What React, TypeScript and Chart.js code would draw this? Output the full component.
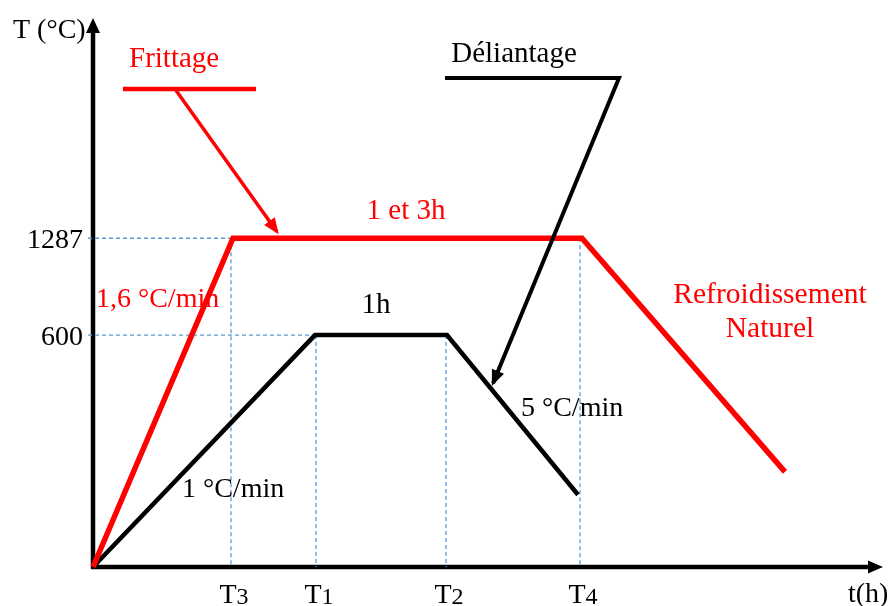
import React, { useEffect, useRef } from 'react';
import { Chart, registerables } from 'chart.js';

Chart.register(...registerables);

// Schematic time (arbitrary units) and schematic temperature levels
const frittageTime = [0, 14.0, 48.9, 69.2];
const frittageTemp = [0, 60.1, 60.1, 17.4];
const deliantageTime = [0, 22.2, 35.4, 48.5];
const deliantageTemp = [0, 42.4, 42.4, 13.2];

const tempTickLabels = ['600', '1287'];
const tempTickLevels = [42.4, 60.1];
const timeTickNames = ['T3', 'T1', 'T2', 'T4'];
const timeTickValues = [13.8, 22.3, 35.3, 48.7];

// Callout keys / pointers
const frittageKeyTime = [3.0, 16.3];
const frittageKeyTemp = [87.4, 87.4];
const frittagePointerTime = [8.2, 18.4];
const frittagePointerTemp = [87.4, 61.3];
const deliantagePointerTime = [35.2, 52.6, 40.0];
const deliantagePointerTemp = [89.4, 89.4, 33.6];

const RED = '#ff0000';
const BLUE = '#5b9bd5';
const SERIF = '"Liberation Serif", "DejaVu Serif", serif';

const pts = (xs: number[], ys: number[]) => xs.map((x, i) => ({ x, y: ys[i] }));

function arrowHead(ctx: CanvasRenderingContext2D, x1: number, y1: number, x2: number, y2: number, len: number, half: number, color: string, extend = 0) {
  const a = Math.atan2(y2 - y1, x2 - x1);
  const dx = Math.cos(a), dy = Math.sin(a);
  const tx = x2 + dx * extend, ty = y2 + dy * extend;
  const bx = tx - dx * len, by = ty - dy * len;
  ctx.save();
  ctx.fillStyle = color;
  ctx.beginPath();
  ctx.moveTo(tx, ty);
  ctx.lineTo(bx - dy * half, by + dx * half);
  ctx.lineTo(bx + dy * half, by - dx * half);
  ctx.closePath();
  ctx.fill();
  ctx.restore();
}

const schematicPlugin = {
  id: 'schematic',
  beforeDatasetsDraw(chart: any) {
    const { ctx } = chart;
    const xs = chart.scales.x;
    const ys = chart.scales.y;
    const x0 = xs.getPixelForValue(0);
    const y0 = ys.getPixelForValue(0);
    const yTop = ys.getPixelForValue(ys.max) - 2;
    const xEnd = xs.getPixelForValue(xs.max);
    ctx.save();
    ctx.strokeStyle = '#000';
    ctx.lineWidth = 4.5;
    ctx.lineCap = 'butt';
    ctx.beginPath();
    ctx.moveTo(x0, y0 + 2);
    ctx.lineTo(x0, yTop + 12);
    ctx.stroke();
    ctx.beginPath();
    ctx.moveTo(x0 - 2, y0);
    ctx.lineTo(xEnd - 12, y0);
    ctx.stroke();
    ctx.restore();
    arrowHead(ctx, x0, y0, x0, yTop, 15, 7, '#000');
    arrowHead(ctx, x0, y0, xEnd, y0, 15, 6.5, '#000');
  },
  afterDatasetsDraw(chart: any) {
    const { ctx } = chart;
    const xs = chart.scales.x;
    const ys = chart.scales.y;
    chart.data.datasets.forEach((ds: any, i: number) => {
      if (!ds.arrow) return;
      const meta = chart.getDatasetMeta(i);
      const n = meta.data.length;
      const p1 = meta.data[n - 2];
      const p2 = meta.data[n - 1];
      arrowHead(ctx, p1.x, p1.y, p2.x, p2.y, 16, 6.5, ds.borderColor, 3);
    });

    ctx.save();
    ctx.textBaseline = 'alphabetic';
    const text = (s: string, x: number, y: number, color: string, align: CanvasTextAlign, size = 29) => {
      ctx.font = `${size}px ${SERIF}`;
      ctx.fillStyle = color;
      ctx.textAlign = align;
      ctx.fillText(s, x, y);
    };
    tempTickLabels.forEach((lab, i) => {
      text(lab, xs.getPixelForValue(0) - 10, ys.getPixelForValue(tempTickLevels[i]) + 10, '#000', 'right', 28);
    });
    timeTickNames.forEach((name, i) => {
      const cx = xs.getPixelForValue(timeTickValues[i]) + 3;
      ctx.font = `28px ${SERIF}`;
      const wT = ctx.measureText(name[0]).width;
      ctx.font = `24px ${SERIF}`;
      const wD = ctx.measureText(name.slice(1)).width;
      const left = cx - (wT + wD) / 2;
      text(name[0], left, 603, '#000', 'left', 28);
      text(name.slice(1), left + wT, 604, '#000', 'left', 24);
    });
    text('T (°C)', 13, 38, '#000', 'left', 28);
    text('t(h)', 848, 602, '#000', 'left', 28);
    text('Frittage', 129, 67, RED, 'left', 29);
    text('Déliantage', 514, 62, '#000', 'center', 29);
    text('1 et 3h', 406, 219, RED, 'center', 29);
    text('1,6 °C/min', 96, 307, RED, 'left', 28);
    text('1h', 376, 313, '#000', 'center', 29);
    text('5 °C/min', 521, 416, '#000', 'left', 28);
    text('1 °C/min', 182, 497, '#000', 'left', 28);
    text('Refroidissement', 770, 303, RED, 'center', 29.5);
    text('Naturel', 770, 337, RED, 'center', 29.5);
    ctx.restore();
  },
};

export default function App() {
  const ref = useRef<HTMLCanvasElement | null>(null);
  useEffect(() => {
    if (!ref.current) return;
    const rc = { x: frittageTime[1], y: frittageTemp[1] };
    const b1 = { x: deliantageTime[1], y: deliantageTemp[1] };
    const guide = (data: any[]) => ({
      data,
      borderColor: BLUE,
      borderWidth: 1.3,
      borderDash: [4, 3],
      pointRadius: 0,
      order: 10,
    });
    const chart = new Chart(ref.current, {
      type: 'line',
      data: {
        datasets: [
          guide([{ x: -0.5, y: rc.y }, rc]),
          guide([{ x: -0.5, y: b1.y }, b1]),
          ...timeTickValues.map((t, i) =>
            guide([{ x: t, y: i === 0 || i === 3 ? frittageTemp[1] : deliantageTemp[1] }, { x: t, y: 0 }])
          ),
          {
            data: pts(deliantageTime, deliantageTemp),
            borderColor: '#000',
            borderWidth: 4.5,
            pointRadius: 0,
            order: 6,
          },
          {
            data: pts(frittageTime, frittageTemp),
            borderColor: RED,
            borderWidth: 5.5,
            pointRadius: 0,
            order: 5,
          },
          {
            data: pts(frittageKeyTime, frittageKeyTemp),
            borderColor: RED,
            borderWidth: 4.5,
            pointRadius: 0,
            order: 4,
          },
          {
            data: pts(frittagePointerTime, frittagePointerTemp),
            borderColor: RED,
            borderWidth: 3.5,
            pointRadius: 0,
            order: 3,
            arrow: true,
          } as any,
          {
            data: pts(deliantagePointerTime, deliantagePointerTemp),
            borderColor: '#000',
            borderWidth: 4,
            pointRadius: 0,
            order: 2,
            arrow: true,
          } as any,
        ],
      },
      options: {
        animation: false,
        responsive: false,
        devicePixelRatio: 1,
        layout: { padding: { left: 93, right: 8, top: 20, bottom: 39 } },
        elements: { line: { tension: 0, borderCapStyle: 'butt', borderJoinStyle: 'miter', fill: false } },
        datasets: { line: { clip: false as any } },
        scales: {
          x: { type: 'linear', min: 0, max: 79, display: false },
          y: { type: 'linear', min: 0, max: 100, display: false },
        },
        plugins: { legend: { display: false }, tooltip: { enabled: false } },
      },
      plugins: [schematicPlugin],
    });
    return () => chart.destroy();
  }, []);
  return (
    <div style={{ position: 'fixed', left: 0, top: 0, width: 891, height: 606, background: '#fff' }}>
      <canvas ref={ref} width={891} height={606} style={{ display: 'block' }} />
    </div>
  );
}
